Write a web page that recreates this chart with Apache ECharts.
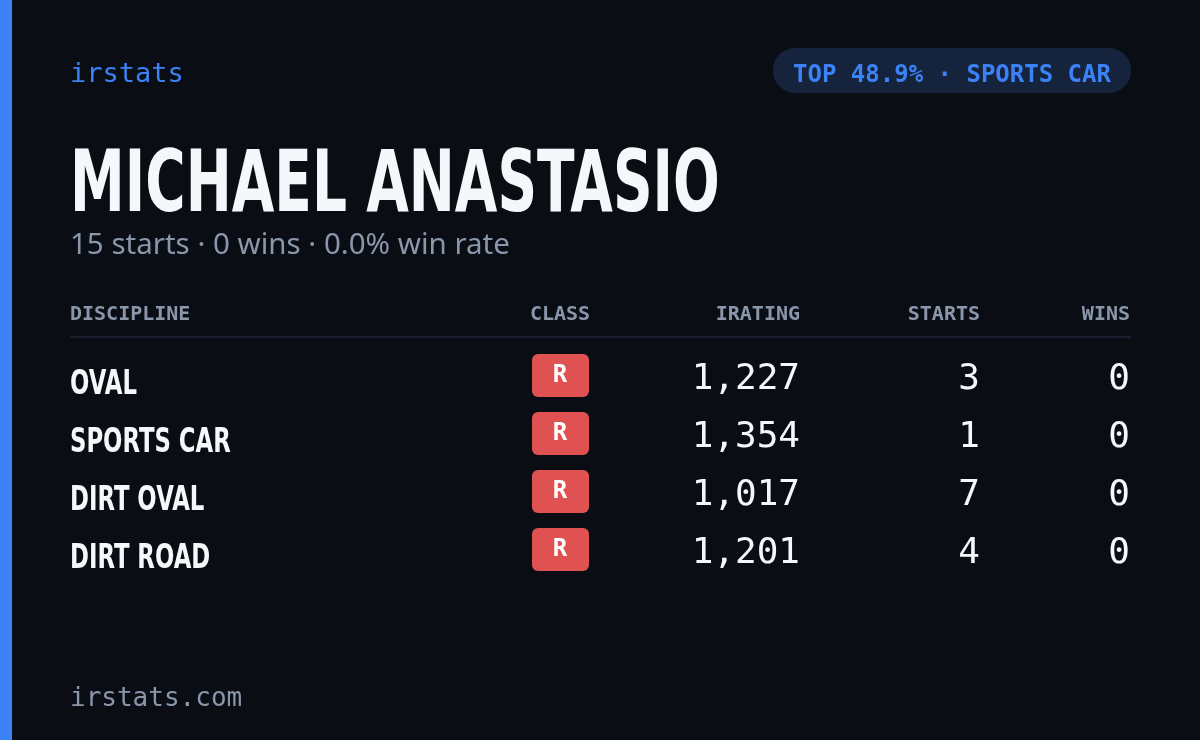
<!DOCTYPE html>
<html><head><meta charset="utf-8">
<script src="https://cdn.jsdelivr.net/npm/echarts@6/dist/echarts.min.js"></script>
<style>html,body{margin:0;background:#0a0d14}#c{width:1200px;height:740px}</style>
</head><body><div id="c"></div>
<script>
const brand = "irstats";
const badgeText = "TOP 48.9% · SPORTS CAR";
const driverName = "MICHAEL ANASTASIO";
const summary = "15 starts · 0 wins · 0.0% win rate";
const headers = ["DISCIPLINE", "CLASS", "IRATING", "STARTS", "WINS"];
const disciplines = ["OVAL", "SPORTS CAR", "DIRT OVAL", "DIRT ROAD"];
const classes = ["R", "R", "R", "R"];
const iratings = [1227, 1354, 1017, 1201];
const starts = [3, 1, 7, 4];
const wins = [0, 0, 0, 0];
const footer = "irstats.com";

const mono = "'DejaVu Sans Mono', monospace";
const cond = "'DejaVu Sans', sans-serif";
const g = [];
g.push({type:'rect', shape:{x:0,y:0,width:1200,height:740}, style:{fill:'#0a0d14'}, silent:true});
g.push({type:'rect', shape:{x:0,y:0,width:12,height:740}, style:{fill:'#3b82f6'}});
g.push({type:'text', x:70, y:75, style:{text:brand, font:"27px "+mono, fill:'#3b82f6', textVerticalAlign:'middle'}});
g.push({type:'rect', shape:{x:773,y:48,width:358,height:45,r:22}, style:{fill:'#16233d'}});
g.push({type:'text', x:952, y:76, style:{text:badgeText, font:"bold 24px "+mono, fill:'#3b82f6', textAlign:'center', textVerticalAlign:'middle'}});
g.push({type:'text', x:70, y:189, scaleX:0.64, originX:0, originY:0, style:{text:driverName, font:"bold 86px "+cond, fill:'#f5f7fa', textVerticalAlign:'middle'}});
g.push({type:'text', x:70, y:246, style:{text:summary, font:"29.5px 'Noto Sans', sans-serif", fill:'#8a96aa', textVerticalAlign:'middle'}});
const hx = [[70,'left'],[560,'center'],[800,'right'],[980,'right'],[1130,'right']];
headers.forEach((h,i)=>g.push({type:'text', x:hx[i][0], y:315, style:{text:h, font:"bold 20px "+mono, fill:'#8a96aa', textAlign:hx[i][1], textVerticalAlign:'middle'}}));
g.push({type:'rect', shape:{x:70,y:336,width:1061,height:2}, style:{fill:'#1a2030'}});
disciplines.forEach((d,i)=>{
  const y = 376 + i*58;
  g.push({type:'text', x:70, y:y+9, scaleX:0.67, originX:0, originY:0, style:{text:d, font:"bold 34px "+cond, fill:'#f5f7fa', textVerticalAlign:'middle'}});
  g.push({type:'rect', shape:{x:532,y:y-22,width:57,height:43,r:6}, style:{fill:'#e05252'}});
  g.push({type:'text', x:560, y:y, style:{text:classes[i], font:"bold 24px "+mono, fill:'#ffffff', textAlign:'center', textVerticalAlign:'middle'}});
  g.push({type:'text', x:800, y:y+4, style:{text:iratings[i].toLocaleString('en-US'), font:"36px "+mono, fill:'#f5f7fa', textAlign:'right', textVerticalAlign:'middle'}});
  g.push({type:'text', x:980, y:y+4, style:{text:String(starts[i]), font:"36px "+mono, fill:'#f5f7fa', textAlign:'right', textVerticalAlign:'middle'}});
  g.push({type:'text', x:1130, y:y+4, style:{text:String(wins[i]), font:"36px "+mono, fill:'#f5f7fa', textAlign:'right', textVerticalAlign:'middle'}});
});
g.push({type:'text', x:70, y:699, style:{text:footer, font:"26px "+mono, fill:'#8a96aa', textVerticalAlign:'middle'}});
const chart = echarts.init(document.getElementById('c'));
chart.setOption({backgroundColor:'#0a0d14', animation:false, graphic:{elements:g}});
</script></body></html>
